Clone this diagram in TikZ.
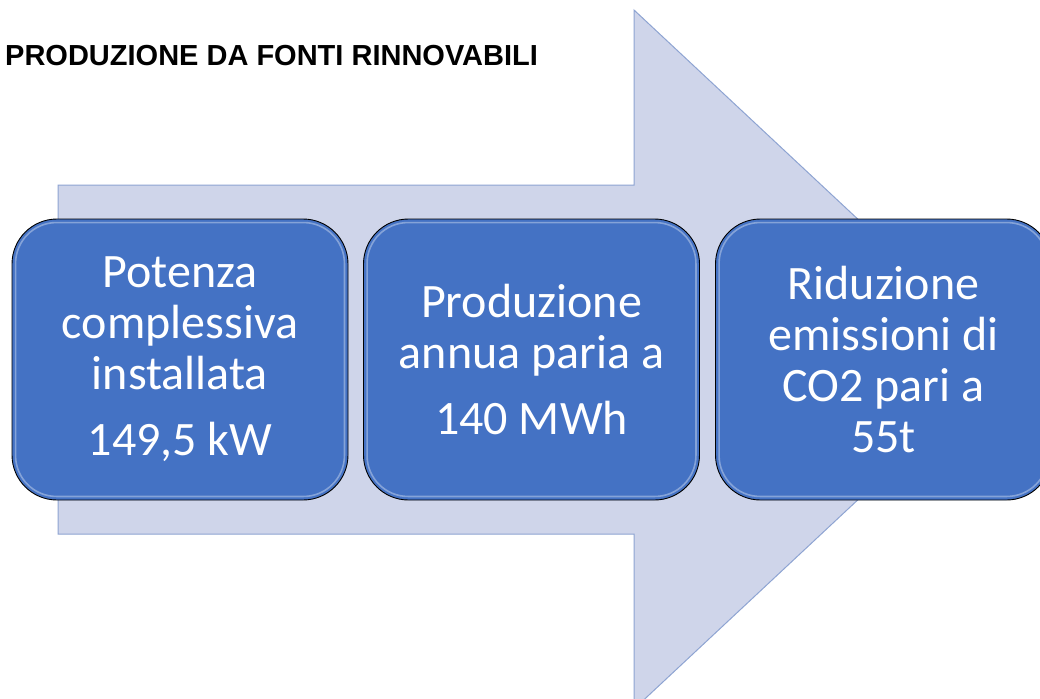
\documentclass[tikz,border=0pt]{standalone}
\usepackage{fontspec}
\setmainfont{Carlito}
\newfontfamily\titlefont{Liberation Sans}
\usetikzlibrary{calc}
\definecolor{boxblue}{HTML}{4472C4}
\definecolor{arrowfill}{HTML}{CFD5EA}
\definecolor{arrowline}{HTML}{8EA4D2}
\tikzset{
  stepbox/.style={rectangle, rounded corners=45pt, fill=boxblue, draw=black, line width=0.9pt,
    minimum width=336pt, minimum height=281pt, text=white, align=center, inner sep=0pt,
    font=\fontsize{48}{51}\selectfont},
  gloss/.style={draw=white, opacity=0.35, line width=1.6pt, rounded corners=41pt},
  bigarrow/.style={draw=arrowline, fill=arrowfill, line width=1pt},
  titletext/.style={font=\titlefont\bfseries\fontsize{29}{35}\selectfont, inner sep=0pt, anchor=base west}
}
\begin{document}
\begin{tikzpicture}[x=1pt,y=-1pt]
\useasboundingbox (0,0) rectangle (1040,698);
\clip (0,0) rectangle (1040,698);
\fill[white] (0,0) rectangle (1040,698);
\draw[bigarrow] (58,185) -- (634,185) -- (634,10) -- (1008,359.5) -- (634,709) -- (634,534) -- (58,534) -- cycle;
\node[titletext] (title) at (5,66) {PRODUZIONE DA FONTI RINNOVABILI};
\node[stepbox] (b1) at (180,359.5) {Potenza\\complessiva\\installata\\[15pt]149,5 kW};
\node[stepbox] (b2) at (531.5,359.5) {Produzione\\annua paria a\\[15pt]140 MWh};
\node[stepbox] (b3) at (883.5,359.5) {Riduzione\\emissioni di\\CO2 pari a\\55t};
\foreach \b in {b1,b2,b3}{
  \draw[gloss] ($(\b.north west)+(4,4)$) rectangle ($(\b.south east)+(-4,-4)$);
}
\end{tikzpicture}
\end{document}
